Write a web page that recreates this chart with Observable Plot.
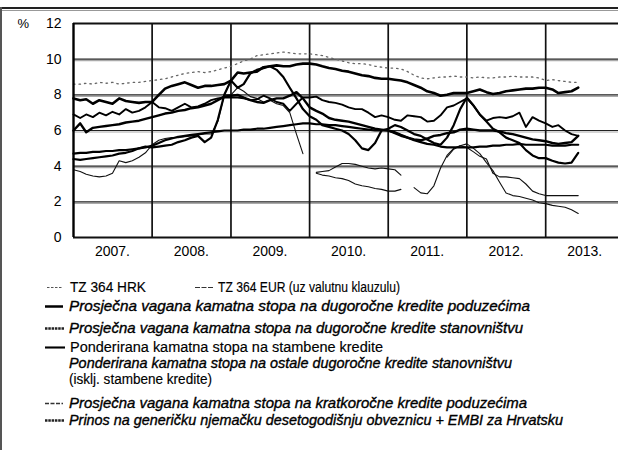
<!DOCTYPE html>
<html><head><meta charset="utf-8">
<script src="https://cdn.jsdelivr.net/npm/d3@7"></script>
<script src="https://cdn.jsdelivr.net/npm/@observablehq/plot@0.6"></script>
<style>
body{margin:0;background:#fff;}
#wrap{position:relative;width:618px;height:450px;overflow:hidden;background:#fff;font-family:"Liberation Sans",Arial,sans-serif;}
#chart svg,#legend svg{display:block;}
.topline{position:absolute;left:0;top:7px;width:618px;height:2px;background:#222;}
.topline2{position:absolute;left:0;top:10px;width:618px;height:1px;background:#999;}
.leftline{position:absolute;left:0;top:7px;width:2px;height:443px;background:#555;}
</style></head><body>
<div id="wrap"><div id="chart"></div><div id="legend"></div><div class="topline"></div><div class="topline2"></div><div class="leftline"></div></div>
<script>
// monthly series, Jan 2007 .. Jun 2013 (78 months); null = no data
const tzHrk = [
 3.8,3.7,3.55,3.45,3.4,3.45,3.6,4.3,4.2,4.3,4.5,4.75,
 5.2,5.45,5.55,5.6,5.6,5.65,5.7,5.75,5.8,5.8,6.5,8.0,
 8.0,8.4,8.2,7.9,7.8,7.6,7.7,7.5,7.4,7.0,5.8,4.7,
 null,3.65,3.7,3.75,3.95,4.15,4.15,4.1,4.0,3.9,3.85,3.9,
 3.85,3.8,3.5,null,2.8,2.5,2.45,2.9,3.9,4.6,5.0,5.15,
 5.25,5.0,4.7,4.2,3.75,3.1,2.5,2.35,2.3,2.2,2.1,1.95,
 1.9,1.8,1.75,1.7,1.55,1.35];
const tzEur = [
 null,null,null,null,null,null,null,null,null,null,null,null,
 null,null,null,null,null,null,null,null,null,null,null,null,
 null,null,null,null,null,null,null,null,null,null,null,null,
 null,3.6,3.5,3.45,3.35,3.3,3.2,3.0,2.9,2.85,2.75,2.7,
 2.6,2.6,2.7,null,null,null,null,null,null,4.5,4.95,5.15,
 5.05,4.8,4.55,4.4,3.6,3.4,3.4,3.35,3.3,3.0,2.6,2.45,
 2.35,2.35,2.35,2.35,2.35,2.35];
const dugPoduzeca = [
 6.0,6.4,5.9,6.15,6.2,6.25,6.3,6.35,6.45,6.5,6.55,6.65,
 6.75,6.85,6.95,7.0,7.1,7.15,7.25,7.3,7.4,7.5,7.7,7.9,
 7.95,8.0,7.85,7.7,7.6,7.55,7.7,7.8,7.8,7.95,8.15,7.8,
 7.3,7.1,6.95,6.7,6.6,6.55,6.5,6.4,6.3,6.2,6.1,6.05,
 6.0,5.9,5.75,5.6,5.5,5.45,5.55,5.7,5.75,5.85,5.9,6.05,
 6.1,6.05,6.0,6.0,6.0,5.95,5.85,5.8,5.7,5.6,5.5,5.45,
 5.4,5.3,5.25,5.3,5.35,5.7];
const dugStanovnistvo = [
 7.8,7.7,7.75,7.5,7.7,7.6,7.5,7.8,7.65,7.6,7.55,7.6,
 7.6,8.0,8.35,8.5,8.6,8.7,8.55,8.4,8.5,8.5,8.55,8.6,
 8.8,9.25,9.2,9.25,9.3,9.55,9.6,9.65,9.6,9.6,9.7,9.75,
 9.75,9.7,9.6,9.5,9.45,9.35,9.3,9.2,9.1,9.05,8.95,8.9,
 8.9,8.85,8.8,8.7,8.55,8.4,8.2,8.1,7.95,8.0,8.1,8.1,
 8.1,8.2,8.3,8.15,8.05,8.1,8.2,8.25,8.3,8.35,8.35,8.4,
 8.4,8.3,8.1,8.15,8.2,8.4];
const stambeni = [
 4.7,4.75,4.75,4.8,4.8,4.85,4.85,4.9,4.9,4.95,5.0,5.05,
 5.15,5.3,5.45,5.55,5.65,5.7,5.75,5.8,5.85,5.9,5.95,6.0,
 6.0,6.0,6.05,6.05,6.1,6.1,6.15,6.2,6.25,6.3,6.35,6.4,
 6.4,6.35,6.35,6.3,6.3,6.25,6.2,6.15,6.1,6.05,6.0,6.0,
 6.0,5.85,5.7,5.6,5.45,5.35,5.25,5.2,5.1,5.05,5.05,5.05,
 5.05,5.05,5.1,5.1,5.15,5.15,5.2,5.2,5.25,5.2,5.2,5.2,
 5.2,5.15,5.15,5.15,5.2,5.2];
const ostaliStanovnistvo = [
 8.6,8.6,8.65,8.6,8.7,8.65,8.7,8.6,8.65,8.7,8.7,8.75,
 8.8,8.85,8.9,9.0,9.1,9.2,9.25,9.3,9.25,9.3,9.4,9.5,
 9.6,9.75,9.9,10.0,10.2,10.25,10.3,10.35,10.4,10.35,10.3,10.3,
 10.3,10.25,10.2,10.1,10.0,9.9,9.8,9.75,9.75,9.7,9.6,9.55,
 9.5,9.5,9.45,9.3,9.1,8.95,8.9,8.95,9.0,9.0,9.05,9.0,
 9.0,8.95,9.0,8.95,8.95,9.0,9.0,9.05,9.0,9.0,9.0,8.95,
 8.8,8.85,8.8,8.75,8.7,8.7];
const kratkPoduzeca = [
 6.9,6.7,6.9,6.75,7.0,6.85,7.05,6.9,7.2,7.0,7.1,7.3,
 7.6,7.3,7.25,7.1,7.3,7.5,7.3,7.35,7.5,7.7,7.8,7.85,
 7.85,7.85,7.8,7.7,7.75,7.95,7.8,7.6,7.5,7.1,7.5,7.85,
 7.85,7.9,7.7,7.6,7.55,7.45,7.3,7.2,7.2,7.0,6.75,6.85,
 6.75,6.6,6.55,6.85,6.8,6.75,6.5,6.55,6.85,7.3,7.4,7.6,
 7.8,7.4,6.9,6.55,6.7,6.75,6.7,6.8,7.0,6.2,6.75,6.55,
 6.4,6.2,6.3,6.0,5.8,5.7];
const bundEmbi = [
 4.4,4.35,4.4,4.45,4.5,4.55,4.6,4.7,4.75,4.85,5.0,5.1,
 5.05,5.1,5.15,5.2,5.35,5.45,5.6,5.7,5.35,5.6,6.6,8.0,
 8.8,8.4,8.6,9.2,9.4,9.5,9.6,9.4,9.0,8.4,7.8,7.2,
 6.8,6.6,6.3,6.2,6.1,6.0,5.8,5.45,5.0,4.9,5.3,6.0,
 6.1,6.3,6.2,6.0,5.8,5.7,5.5,5.3,5.2,5.6,6.3,7.2,
 7.85,7.4,6.9,6.5,6.1,5.9,5.6,5.45,5.3,4.9,4.6,4.45,
 4.45,4.3,4.2,4.15,4.2,4.75];

const yTicks = [0,2,4,6,8,10,12];
const years = [2007,2008,2009,2010,2011,2012,2013];
const legendLabels = [
 "TZ 364 HRK",
 "TZ 364 EUR (uz valutnu klauzulu)",
 "Prosječna vagana kamatna stopa na dugoročne kredite poduzećima",
 "Prosječna vagana kamatna stopa na dugoročne kredite stanovništvu",
 "Ponderirana kamatna stopa na stambene kredite",
 "Ponderirana kamatna stopa na ostale dugoročne kredite stanovništvu",
 "(isklj. stambene kredite)",
 "Prosječna vagana kamatna stopa na kratkoročne kredite poduzećima",
 "Prinos na generičku njemačku desetogodišnju obveznicu + EMBI za Hrvatsku"
];

const months = d3.range(78).map(i => new Date(Date.UTC(2007, i, 1)));
const rows = vals => vals.map((v, i) => ({date: months[i], value: v}));
const yearStarts = years.map(y => new Date(Date.UTC(y, 0, 1)));
const yearMids = years.map(y => new Date(Date.UTC(y, 6, 1)));
const grid = yTicks.filter(v => v > 0 && v < 12);

const chart = Plot.plot({
  width: 618, height: 268,
  marginTop: 23, marginBottom: 31, marginLeft: 73, marginRight: 0,
  x: {type: "utc", domain: [new Date(Date.UTC(2007,0,1)), new Date(Date.UTC(2013,11,5))]},
  y: {domain: [0, 12]},
  style: {fontFamily: "'Liberation Sans', Arial, sans-serif", fontSize: "14px", color: "#000", background: "white", overflow: "visible"},
  marks: [
    Plot.ruleY(grid, {stroke: "#aaa", strokeWidth: 1.2, dy: 1.5}),
    Plot.ruleY(grid, {stroke: "#222", strokeWidth: 1.2}),
    Plot.ruleX(yearStarts.slice(1), {y1: 0, y2: 12, stroke: "#111", strokeWidth: 1.7}),
    Plot.lineY(rows(ostaliStanovnistvo), {x: "date", y: "value", stroke: "#666", strokeWidth: 1.3, strokeDasharray: "1.5,4"}),
    Plot.lineY(rows(tzHrk), {x: "date", y: "value", stroke: "#111", strokeWidth: 1.1}),
    Plot.lineY(rows(tzEur), {x: "date", y: "value", stroke: "#111", strokeWidth: 1.1}),
    Plot.lineY(rows(kratkPoduzeca), {x: "date", y: "value", stroke: "#000", strokeWidth: 1.9}),
    Plot.lineY(rows(stambeni), {x: "date", y: "value", stroke: "#000", strokeWidth: 2.2}),
    Plot.lineY(rows(bundEmbi), {x: "date", y: "value", stroke: "#000", strokeWidth: 2.2}),
    Plot.lineY(rows(dugPoduzeca), {x: "date", y: "value", stroke: "#000", strokeWidth: 2.4}),
    Plot.lineY(rows(dugStanovnistvo), {x: "date", y: "value", stroke: "#000", strokeWidth: 2.6}),
    Plot.ruleY([0, 12], {stroke: "#111", strokeWidth: 2}),
    Plot.ruleX([yearStarts[0]], {y1: 0, y2: 12, stroke: "#000", strokeWidth: 2.4}),
    Plot.axisY(yTicks, {tickSize: 0, tickPadding: 12, label: null, fontSize: 14}),
    Plot.axisX(yearMids, {tickSize: 0, tickPadding: 9, label: null, fontSize: 14, tickFormat: d => `${d.getUTCFullYear()}.`}),
    Plot.text(["%"], {frameAnchor: "top-left", lineAnchor: "middle", dx: -56, dy: 0, fontSize: 13})
  ]
});
document.getElementById("chart").appendChild(chart);

// legend
const off = 268;
const items = [
  {label: legendLabels[0], x: 70, w: 76, y: 292, italic: false, sw: {x1: 47, x2: 63, stroke: "#555", width: 1, dash: "2.5,1.5"}},
  {label: legendLabels[1], x: 218, w: 182, y: 292, italic: false, sw: {x1: 195, x2: 213, stroke: "#333", width: 1.1, dash: "5,1.5"}},
  {label: legendLabels[2], x: 69, w: 461, y: 311, italic: true, sw: {x1: 45, x2: 63, stroke: "#000", width: 2.5}},
  {label: legendLabels[3], x: 69, w: 454, y: 333, italic: true, sw: {x1: 45, x2: 64, stroke: "#222", width: 2.4, dash: "2.5,0.8"}},
  {label: legendLabels[4], x: 70, w: 313, y: 352, italic: false, sw: {x1: 45, x2: 65, stroke: "#000", width: 2.1}},
  {label: legendLabels[5], x: 69, w: 443, y: 368, italic: true, sw: null},
  {label: legendLabels[6], x: 69, w: 143, y: 384, italic: false, sw: null},
  {label: legendLabels[7], x: 69, w: 458, y: 408, italic: true, sw: {x1: 45, x2: 63, stroke: "#333", width: 1.3, dash: "4,1.5"}},
  {label: legendLabels[8], x: 69, w: 494, y: 425, italic: true, sw: {x1: 45, x2: 64, stroke: "#222", width: 2.4, dash: "2.5,0.8"}}
];
const leg = d3.create("svg").attr("width", 618).attr("height", 450 - off)
  .style("font-family", "'Liberation Sans', Arial, sans-serif");
for (const it of items) {
  if (it.sw) {
    leg.append("line").attr("x1", it.sw.x1).attr("x2", it.sw.x2)
      .attr("y1", it.y - off - 4.5).attr("y2", it.y - off - 4.5)
      .attr("stroke", it.sw.stroke).attr("stroke-width", it.sw.width)
      .attr("stroke-dasharray", it.sw.dash || null);
  }
  leg.append("text").attr("x", it.x).attr("y", it.y - off)
    .attr("font-size", 14).attr("fill", "#000")
    .attr("stroke", "#000").attr("stroke-width", it.italic ? 0.35 : 0.15)
    .attr("font-style", it.italic ? "italic" : "normal")
    .attr("textLength", it.w).attr("lengthAdjust", "spacingAndGlyphs")
    .text(it.label);
}
document.getElementById("legend").appendChild(leg.node());
</script>
</body></html>
